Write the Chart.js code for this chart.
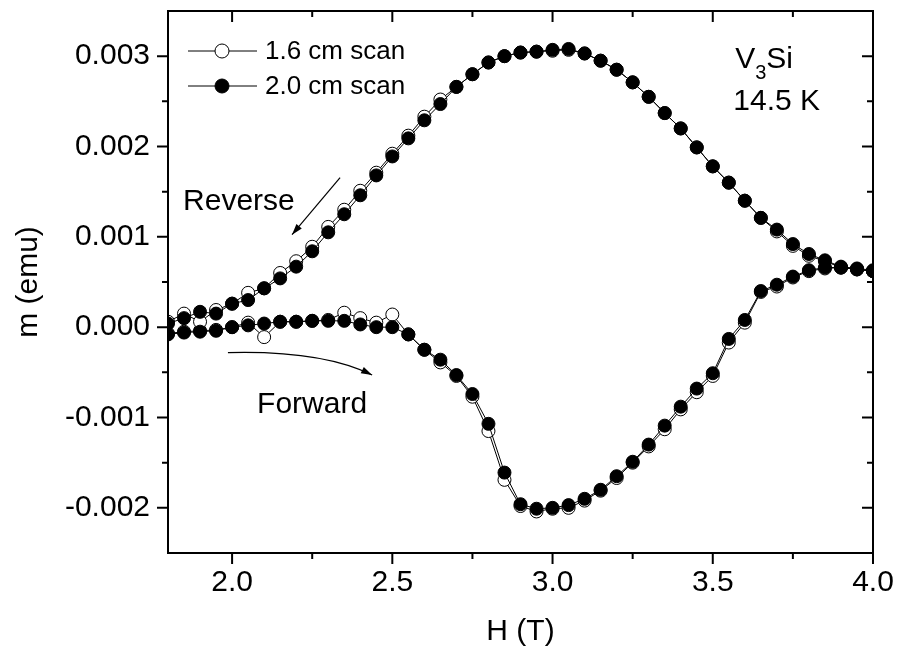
<!DOCTYPE html>
<html>
<head>
<meta charset="utf-8">
<script src="https://cdn.jsdelivr.net/npm/chart.js@4/dist/chart.umd.min.js"></script>
<style>
  body { margin: 0; background: #fff; }
</style>
</head>
<body>
<canvas id="myChart" width="900" height="656"></canvas>
<script>
// field values (T), forward sweep then reverse sweep
const fieldForward = [1.80, 1.85, 1.90, 1.95, 2.00, 2.05, 2.10, 2.15, 2.20, 2.25, 2.30, 2.35, 2.40, 2.45, 2.50,
    2.55, 2.60, 2.65, 2.70, 2.75, 2.80, 2.85, 2.90, 2.95, 3.00, 3.05, 3.10, 3.15, 3.20, 3.25, 3.30,
    3.35, 3.40, 3.45, 3.50, 3.55, 3.60, 3.65, 3.70, 3.75, 3.80, 3.85, 3.90, 3.95, 4.00];
const fieldReverse = [4.00, 3.95, 3.90, 3.85, 3.80, 3.75, 3.70, 3.65, 3.60, 3.55, 3.50, 3.45, 3.40, 3.35, 3.30,
    3.25, 3.20, 3.15, 3.10, 3.05, 3.00, 2.95, 2.90, 2.85, 2.80, 2.75, 2.70, 2.65, 2.60, 2.55, 2.50,
    2.45, 2.40, 2.35, 2.30, 2.25, 2.20, 2.15, 2.10, 2.05, 2.00, 1.95, 1.90, 1.85, 1.80];

// 1.6 cm scan (open circles), emu
const scan16Forward = [-0.00007, -0.00005, -0.00004, -0.00003, 0.00000, 0.00005, -0.00011, 0.00006, 0.00006, 0.00007,
    0.00008, 0.00016, 0.00010, 0.00005, 0.00014, -0.00008, -0.00025, -0.00039, -0.00054, -0.00077,
    -0.00115, -0.00169, -0.00198, -0.00204, -0.00201, -0.00200, -0.00192, -0.00181, -0.00167, -0.00150,
    -0.00132, -0.00113, -0.00091, -0.00072, -0.00054, -0.00017, 0.00005, 0.00039, 0.00045, 0.00055,
    0.00062, 0.00065, 0.00066, 0.00064, 0.00062];
const scan16Reverse = [0.00062, 0.00064, 0.00066, 0.00073, 0.00079, 0.00090, 0.00106, 0.00121, 0.00140, 0.00160,
    0.00178, 0.00199, 0.00220, 0.00237, 0.00255, 0.00271, 0.00285, 0.00295, 0.00303, 0.00307,
    0.00306, 0.00305, 0.00304, 0.00300, 0.00293, 0.00280, 0.00266, 0.00252, 0.00233, 0.00212,
    0.00192, 0.00171, 0.00151, 0.00130, 0.00111, 0.00089, 0.00073, 0.00060, 0.00043, 0.00038,
    0.00026, 0.00019, 0.00006, 0.00015, 0.00006];

// 2.0 cm scan (filled circles), emu
const scan20Forward = [-0.00008, -0.00006, -0.00005, -0.00004, 0.00000, 0.00002, 0.00004, 0.00006, 0.00006, 0.00007,
    0.00007, 0.00007, 0.00003, 0.00000, 0.00000, -0.00008, -0.00025, -0.00036, -0.00053, -0.00074,
    -0.00107, -0.00161, -0.00196, -0.00201, -0.00200, -0.00197, -0.00190, -0.00180, -0.00165, -0.00149,
    -0.00130, -0.00109, -0.00088, -0.00068, -0.00051, -0.00013, 0.00008, 0.00040, 0.00047, 0.00056,
    0.00063, 0.00066, 0.00066, 0.00064, 0.00062];
const scan20Reverse = [0.00063, 0.00065, 0.00067, 0.00074, 0.00081, 0.00092, 0.00108, 0.00121, 0.00140, 0.00160,
    0.00178, 0.00199, 0.00220, 0.00237, 0.00255, 0.00271, 0.00285, 0.00295, 0.00303, 0.00308,
    0.00307, 0.00305, 0.00304, 0.00300, 0.00293, 0.00280, 0.00266, 0.00247, 0.00229, 0.00209,
    0.00189, 0.00168, 0.00146, 0.00125, 0.00105, 0.00084, 0.00067, 0.00054, 0.00043, 0.00030,
    0.00026, 0.00015, 0.00017, 0.00010, 0.00004];

const xMajorTicks = [2.0, 2.5, 3.0, 3.5, 4.0];
const xMinorTicks = [2.25, 2.75, 3.25, 3.75];
const yMajorTicks = [-0.002, -0.001, 0.000, 0.001, 0.002, 0.003];
const yMinorTicks = [-0.0015, -0.0005, 0.0005, 0.0015, 0.0025];

const FONT = '"Liberation Sans", Arial, sans-serif';

function sweep(fwd, rev) {
    const pts = [];
    fieldForward.forEach((h, i) => pts.push({ x: h, y: fwd[i] }));
    fieldReverse.forEach((h, i) => pts.push({ x: h, y: rev[i] }));
    return pts;
}

function arrowHead(ctx, x0, y0, x1, y1) {
    const ang = Math.atan2(y1 - y0, x1 - x0);
    const len = 11, half = 3.5;
    ctx.beginPath();
    ctx.moveTo(x1, y1);
    ctx.lineTo(x1 - len * Math.cos(ang) + half * Math.sin(ang), y1 - len * Math.sin(ang) - half * Math.cos(ang));
    ctx.lineTo(x1 - len * Math.cos(ang) - half * Math.sin(ang), y1 - len * Math.sin(ang) + half * Math.cos(ang));
    ctx.closePath();
    ctx.fill();
}

const frameAndNotes = {
    id: 'frameAndNotes',
    afterDraw(chart) {
        const { ctx, chartArea: a, scales: { x, y } } = chart;
        const px = v => x.getPixelForValue(v);
        const py = v => y.getPixelForValue(v);
        ctx.save();
        ctx.strokeStyle = '#000';
        ctx.fillStyle = '#000';

        // frame
        ctx.lineWidth = 2;
        ctx.strokeRect(a.left, a.top, a.right - a.left, a.bottom - a.top);

        // ticks: outward on bottom/left, inward on top/right
        ctx.beginPath();
        const xt = (v, len) => {
            const p = px(v);
            ctx.moveTo(p, a.bottom); ctx.lineTo(p, a.bottom + len);
            ctx.moveTo(p, a.top); ctx.lineTo(p, a.top + len);
        };
        const yt = (v, len) => {
            const p = py(v);
            ctx.moveTo(a.left, p); ctx.lineTo(a.left - len, p);
            ctx.moveTo(a.right, p); ctx.lineTo(a.right - len, p);
        };
        xMajorTicks.forEach(v => xt(v, 11));
        xMinorTicks.forEach(v => xt(v, 6));
        yMajorTicks.forEach(v => yt(v, 11));
        yMinorTicks.forEach(v => yt(v, 6));
        ctx.stroke();

        // legend
        const ds = chart.data.datasets;
        ctx.lineWidth = 1;
        ctx.font = '26px ' + FONT;
        ctx.textBaseline = 'middle';
        ctx.textAlign = 'left';
        [51, 86].forEach((rowY, i) => {
            const d = ds[i];
            ctx.beginPath();
            ctx.moveTo(a.left + 20, rowY);
            ctx.lineTo(a.left + 89, rowY);
            ctx.stroke();
            ctx.beginPath();
            ctx.arc(a.left + 54, rowY, 7, 0, Math.PI * 2);
            ctx.fillStyle = d.backgroundColor;
            ctx.fill();
            ctx.stroke();
            ctx.fillStyle = '#000';
            ctx.fillText(d.label, a.left + 97, rowY + 1);
        });

        // annotations
        ctx.font = '30px ' + FONT;
        ctx.fillText('V', px(3.57), py(0.00296));
        const vw = ctx.measureText('V').width;
        ctx.font = '20px ' + FONT;
        ctx.fillText('3', px(3.57) + vw, py(0.00296) + 14);
        const sw = ctx.measureText('3').width;
        ctx.font = '30px ' + FONT;
        ctx.fillText('Si', px(3.57) + vw + sw, py(0.00296));
        ctx.fillText('14.5 K', px(3.564), py(0.00250));
        ctx.fillText('Reverse', px(1.847), py(0.00139));
        ctx.fillText('Forward', px(2.078), py(-0.00086));

        // reverse arrow
        ctx.lineWidth = 1.2;
        const r0 = [px(2.337), py(0.001656)], r1 = [px(2.187), py(0.001024)];
        ctx.beginPath();
        ctx.moveTo(r0[0], r0[1]);
        ctx.lineTo(r1[0], r1[1]);
        ctx.stroke();
        arrowHead(ctx, r0[0], r0[1], r1[0], r1[1]);

        // forward arrow (curved)
        const f0 = [px(1.987), py(-0.000282)], fc = [px(2.28), py(-0.000255)], f1 = [px(2.437), py(-0.000530)];
        ctx.beginPath();
        ctx.moveTo(f0[0], f0[1]);
        ctx.quadraticCurveTo(fc[0], fc[1], f1[0], f1[1]);
        ctx.stroke();
        arrowHead(ctx, fc[0], fc[1], f1[0], f1[1]);

        ctx.restore();
    }
};

document.addEventListener('DOMContentLoaded', function () {
    const ctx = document.getElementById('myChart').getContext('2d');

    new Chart(ctx, {
        type: 'scatter',
        data: {
            datasets: [{
                label: '1.6 cm scan',
                data: sweep(scan16Forward, scan16Reverse),
                showLine: true,
                borderColor: '#000',
                borderWidth: 1,
                backgroundColor: '#fff',
                pointBackgroundColor: '#fff',
                pointBorderColor: '#000',
                pointBorderWidth: 1,
                pointRadius: 6.5,
                order: 1
            }, {
                label: '2.0 cm scan',
                data: sweep(scan20Forward, scan20Reverse),
                showLine: true,
                borderColor: '#000',
                borderWidth: 1,
                backgroundColor: '#000',
                pointBackgroundColor: '#000',
                pointBorderColor: '#000',
                pointBorderWidth: 1,
                pointRadius: 6.5,
                order: 0
            }]
        },
        options: {
            responsive: false,
            animation: false,
            events: [],
            layout: { padding: { top: 11, right: 27, left: 0, bottom: 0 } },
            scales: {
                x: {
                    type: 'linear',
                    min: 1.8,
                    max: 4.0,
                    grid: { display: false, drawTicks: false },
                    border: { display: false },
                    afterBuildTicks: s => { s.ticks = xMajorTicks.map(v => ({ value: v })); },
                    afterFit: s => { s.height = 103; s.paddingLeft = 0; s.paddingRight = 0; },
                    ticks: {
                        color: '#000',
                        padding: 12,
                        maxRotation: 0,
                        font: { family: FONT, size: 30 },
                        callback: v => Number(v).toFixed(1)
                    },
                    title: {
                        display: true,
                        text: 'H (T)',
                        color: '#000',
                        font: { family: FONT, size: 30 },
                        padding: { top: 0, bottom: 6 }
                    }
                },
                y: {
                    type: 'linear',
                    min: -0.0025,
                    max: 0.0035,
                    grid: { display: false, drawTicks: false },
                    border: { display: false },
                    afterBuildTicks: s => { s.ticks = yMajorTicks.map(v => ({ value: v })); },
                    afterFit: s => { s.width = 168; s.paddingTop = 0; s.paddingBottom = 0; },
                    ticks: {
                        color: '#000',
                        padding: 18,
                        font: { family: FONT, size: 30 },
                        callback: v => Number(v).toFixed(3)
                    },
                    title: {
                        display: true,
                        text: 'm (emu)',
                        color: '#000',
                        font: { family: FONT, size: 30 },
                        padding: { top: 11, bottom: 0 }
                    }
                }
            },
            plugins: {
                legend: { display: false },
                tooltip: { enabled: false }
            }
        },
        plugins: [frameAndNotes]
    });
});
</script>
</body>
</html>
